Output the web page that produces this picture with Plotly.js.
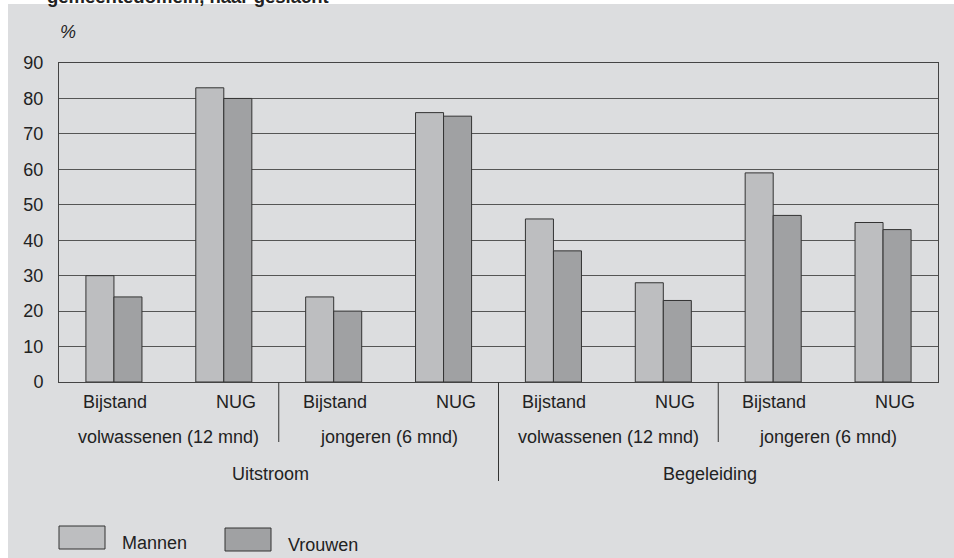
<!DOCTYPE html>
<html>
<head>
<meta charset="utf-8">
<script src="https://cdn.plot.ly/plotly-3.0.1.min.js"></script>
<style>html,body{margin:0;padding:0;background:#fff;}#chart{width:954px;height:558px;}</style>
</head>
<body>
<div id="chart"></div>
<script>
// ---- data ----
const benefit = ['Bijstand', 'NUG', 'Bijstand', 'NUG', 'Bijstand', 'NUG', 'Bijstand', 'NUG'];
const subGroups = ['volwassenen (12 mnd)', 'jongeren (6 mnd)', 'volwassenen (12 mnd)', 'jongeren (6 mnd)'];
const mainGroups = ['Uitstroom', 'Begeleiding'];
const mannen = [30, 83, 24, 76, 46, 28, 59, 45];
const vrouwen = [24, 80, 20, 75, 37, 23, 47, 43];
const seriesNames = ['Mannen', 'Vrouwen'];
const yTicks = [0, 10, 20, 30, 40, 50, 60, 70, 80, 90];
const titleText = 'gemeentedomein, naar geslacht';
const unitText = '%';

// ---- layout helpers ----
const W = 954, H = 558;
const mL = 59, mR = 16, mT = 63, mB = 176;
const pw = W - mL - mR, ph = H - mT - mB;
const px = x => (x - mL) / pw;          // page px -> paper x
const py = y => (H - mB - y) / ph;      // page px -> paper y
const FONT = '"Liberation Sans", Arial, sans-serif';
const TXT = '#222222';
const colM = '#bdbec0', colV = '#a0a1a3', edge = '#333333';

const xIdx = benefit.map((_, i) => i);

const traces = [
  { type: 'bar', name: seriesNames[0], x: xIdx, y: mannen,
    marker: { color: colM, line: { color: edge, width: 1 } }, hoverinfo: 'y' },
  { type: 'bar', name: seriesNames[1], x: xIdx, y: vrouwen,
    marker: { color: colV, line: { color: edge, width: 1 } }, hoverinfo: 'y' }
];

const annotations = [];
// row 1: benefit labels
benefit.forEach((b, i) => {
  annotations.push({ x: i, xref: 'x', y: 0, yref: 'paper', text: b, showarrow: false,
    xanchor: 'center', yanchor: 'middle', yshift: -(401.5 - 382), xshift: b === 'NUG' ? 12 : 1,
    font: { family: FONT, size: 18, color: TXT } });
});
// row 2: sub group labels
subGroups.forEach((s, j) => {
  annotations.push({ x: 2 * j + 0.5, xref: 'x', y: 0, yref: 'paper', text: s, showarrow: false,
    xanchor: 'center', yanchor: 'middle', yshift: -(437 - 382),
    font: { family: FONT, size: 18, color: TXT } });
});
// row 3: main group labels
mainGroups.forEach((m, k) => {
  annotations.push({ x: 4 * k + 1.5, xref: 'x', y: 0, yref: 'paper', text: m, showarrow: false,
    xanchor: 'center', yanchor: 'middle', yshift: -(473.5 - 382), xshift: -8,
    font: { family: FONT, size: 18, color: TXT } });
});
// unit
annotations.push({ x: px(68), xref: 'paper', y: py(31.5), yref: 'paper', text: '<i>' + unitText + '</i>',
  showarrow: false, xanchor: 'center', yanchor: 'middle', font: { family: FONT, size: 18, color: TXT } });
// cut-off title
annotations.push({ x: px(45), xref: 'paper', y: py(-3.5), yref: 'paper', text: '<b>' + titleText + '</b>',
  showarrow: false, xanchor: 'left', yanchor: 'middle', font: { family: FONT, size: 18.5, color: TXT } });
// legend labels
annotations.push({ x: px(120), xref: 'paper', y: py(542.5), yref: 'paper', text: seriesNames[0],
  showarrow: false, xanchor: 'left', yanchor: 'middle', font: { family: FONT, size: 18, color: TXT } });
annotations.push({ x: px(286), xref: 'paper', y: py(545), yref: 'paper', text: seriesNames[1],
  showarrow: false, xanchor: 'left', yanchor: 'middle', font: { family: FONT, size: 18, color: TXT } });

const shapes = [
  // grey panel
  { type: 'rect', xref: 'paper', yref: 'paper', x0: px(8), x1: px(W + 2), y0: py(H + 2), y1: py(4),
    fillcolor: '#dcdddf', line: { width: 0 }, layer: 'below' },
  // separators
  { type: 'line', xref: 'x', yref: 'paper', x0: 1.5, x1: 1.5, y0: 0, y1: py(442), line: { color: edge, width: 1 } },
  { type: 'line', xref: 'x', yref: 'paper', x0: 3.5, x1: 3.5, y0: 0, y1: py(481), line: { color: edge, width: 1 } },
  { type: 'line', xref: 'x', yref: 'paper', x0: 5.5, x1: 5.5, y0: 0, y1: py(442), line: { color: edge, width: 1 } },
  // legend boxes
  { type: 'rect', xref: 'paper', yref: 'paper', x0: px(59), x1: px(105), y0: py(549), y1: py(526),
    fillcolor: colM, line: { color: edge, width: 1 } },
  { type: 'rect', xref: 'paper', yref: 'paper', x0: px(225), x1: px(271), y0: py(551), y1: py(528),
    fillcolor: colV, line: { color: edge, width: 1 } }
];

const layout = {
  width: W, height: H,
  margin: { l: mL, r: mR, t: mT, b: mB, pad: 0 },
  paper_bgcolor: '#ffffff', plot_bgcolor: '#ffffff',
  barmode: 'group', bargap: 0.49, bargroupgap: 0,
  showlegend: false,
  font: { family: FONT, size: 18, color: TXT },
  xaxis: { type: 'linear', range: [-0.5, 7.5], showgrid: false, zeroline: false,
    showticklabels: false, ticks: '', showline: true, mirror: true, linecolor: '#444', linewidth: 1, fixedrange: true },
  yaxis: { range: [0, 90], tickvals: yTicks, ticktext: yTicks.map(String), showgrid: true, gridcolor: '#555',
    gridwidth: 1, zeroline: false, showline: true, mirror: true, linecolor: '#444', linewidth: 1,
    ticks: '', ticklabelstandoff: 11, tickfont: { family: FONT, size: 18, color: TXT }, fixedrange: true },
  shapes: shapes,
  annotations: annotations
};

Plotly.newPlot('chart', traces, layout, { displayModeBar: false, staticPlot: true });
</script>
</body>
</html>
